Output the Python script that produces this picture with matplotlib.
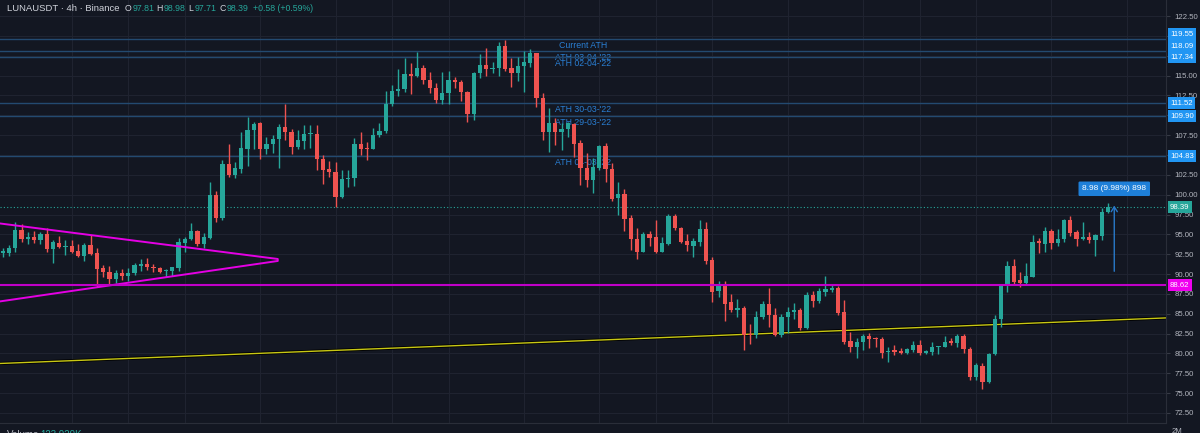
import numpy as np
import matplotlib
matplotlib.use('Agg')
import matplotlib.pyplot as plt
import matplotlib.patheffects as pe

plt.rcParams['font.family'] = ['Liberation Sans', 'DejaVu Sans']

# 4h candles, LUNAUSDT
opens = [92.66, 92.66, 93.29, 95.55, 94.42, 94.67, 94.29, 95.05, 93.16, 93.92,
         93.41, 93.54, 92.91, 92.28, 93.66, 92.66, 90.77, 90.26, 89.38, 90.14,
         89.76, 90.14, 91.02, 91.27, 90.89, 90.77, 90.39, 90.39, 90.77, 93.92,
         94.42, 95.43, 93.79, 94.54, 99.96, 97.07, 103.87, 102.48, 103.24, 105.75,
         108.15, 109.03, 105.75, 106.38, 107.01, 108.53, 107.89, 106.01, 106.76, 107.58,
         107.64, 104.49, 103.24, 102.86, 99.71, 101.98, 102.10, 106.38, 105.88, 105.75,
         107.52, 108.02, 111.42, 113.06, 113.31, 115.20, 114.95, 115.96, 114.44, 113.44,
         111.93, 112.81, 114.44, 114.19, 112.93, 110.16, 115.33, 116.33, 115.83, 115.96,
         118.73, 115.96, 115.33, 116.21, 116.59, 117.84, 112.18, 107.89, 109.03, 107.89,
         108.27, 108.90, 106.51, 103.36, 101.85, 103.36, 106.13, 103.24, 99.58, 100.09,
         97.07, 94.42, 92.78, 95.05, 94.67, 92.78, 93.79, 97.32, 95.80, 94.17,
         93.54, 94.04, 95.68, 91.77, 87.87, 88.75, 86.49, 85.48, 85.73, 82.45,
         82.33, 84.60, 86.24, 84.85, 82.33, 84.60, 85.23, 85.48, 83.21, 87.37,
         86.61, 87.75, 88.00, 88.25, 85.23, 81.57, 80.82, 81.45, 82.20, 81.95,
         81.83, 80.19, 80.44, 80.31, 80.06, 80.44, 81.07, 80.06, 80.19, 80.82,
         80.82, 81.57, 81.32, 82.20, 80.57, 77.04, 78.42, 76.41, 79.93, 84.34,
         88.75, 91.02, 89.26, 88.88, 89.64, 94.17, 93.79, 95.43, 93.92, 94.42,
         96.81, 95.30, 94.42, 94.67, 94.29, 94.80, 97.81]
highs = [93.29, 93.66, 96.56, 96.31, 95.30, 95.43, 95.30, 95.80, 94.29, 94.80,
         94.29, 94.29, 93.79, 93.92, 94.92, 93.29, 91.15, 91.02, 90.52, 90.64,
         90.77, 91.40, 91.90, 92.03, 91.27, 90.89, 90.64, 90.89, 94.54, 94.67,
         96.43, 95.55, 95.17, 101.60, 100.46, 104.37, 106.38, 104.12, 107.89, 109.78,
         109.15, 109.15, 107.26, 107.52, 108.90, 111.42, 108.27, 108.15, 108.78, 108.78,
         108.78, 105.00, 104.24, 104.12, 103.11, 103.11, 107.14, 107.89, 106.64, 108.40,
         109.03, 113.06, 113.81, 115.83, 117.21, 116.59, 117.97, 116.33, 115.45, 114.07,
         115.45, 115.58, 114.82, 114.44, 113.06, 115.45, 117.72, 118.47, 116.71, 119.23,
         119.48, 117.21, 117.34, 118.09, 118.35, 117.90, 112.81, 110.92, 109.66, 109.03,
         109.15, 109.03, 106.89, 105.25, 104.62, 106.26, 106.51, 103.99, 101.60, 100.72,
         97.45, 95.80, 95.30, 95.43, 96.81, 94.67, 97.57, 97.57, 95.93, 95.05,
         94.54, 96.81, 96.56, 92.16, 89.13, 89.13, 87.50, 86.86, 85.98, 83.72,
         85.35, 86.61, 88.25, 85.73, 84.97, 85.86, 86.36, 85.73, 87.75, 87.87,
         88.25, 89.76, 88.75, 88.50, 86.74, 82.71, 81.95, 82.45, 82.58, 82.07,
         82.07, 80.82, 81.07, 80.69, 80.69, 81.57, 81.70, 80.44, 81.45, 80.94,
         82.20, 81.95, 82.45, 82.45, 80.82, 78.80, 78.80, 80.06, 84.85, 88.75,
         91.65, 91.90, 90.26, 91.40, 94.92, 94.54, 95.93, 95.68, 95.68, 96.94,
         97.32, 95.55, 96.56, 95.30, 95.05, 98.32, 98.98]
lows = [92.16, 92.28, 92.78, 94.04, 93.79, 93.92, 93.79, 92.78, 91.40, 93.29,
        92.41, 92.66, 92.16, 91.65, 92.41, 88.37, 89.64, 88.75, 88.88, 89.26,
        89.13, 89.89, 90.39, 90.52, 90.26, 90.14, 89.64, 89.76, 90.39, 92.78,
        94.29, 93.54, 93.29, 94.42, 96.56, 96.81, 102.23, 102.10, 102.73, 103.62,
        105.75, 104.49, 105.12, 105.25, 103.36, 106.89, 105.12, 105.75, 105.75, 105.88,
        103.11, 101.35, 102.23, 98.45, 99.58, 100.97, 101.10, 105.00, 104.37, 105.75,
        107.26, 107.77, 111.17, 112.43, 112.93, 112.68, 114.82, 113.94, 112.81, 111.55,
        111.42, 111.42, 113.44, 111.80, 109.15, 109.41, 114.70, 114.95, 115.33, 114.95,
        115.58, 113.56, 114.32, 112.93, 116.08, 111.04, 106.89, 105.38, 106.26, 105.63,
        107.26, 104.74, 101.22, 100.97, 100.21, 103.11, 101.60, 99.20, 97.45, 95.43,
        93.04, 91.90, 92.78, 93.54, 92.66, 92.78, 93.66, 95.55, 93.92, 92.91,
        92.16, 93.54, 91.27, 86.49, 87.12, 84.09, 85.23, 84.60, 80.44, 81.20,
        81.95, 84.34, 83.34, 82.20, 82.07, 82.58, 84.34, 82.96, 83.09, 85.86,
        86.36, 87.24, 87.75, 84.85, 81.20, 80.19, 79.43, 80.44, 80.69, 80.82,
        79.43, 78.93, 79.81, 79.93, 79.93, 80.19, 79.81, 79.93, 79.81, 79.93,
        80.82, 81.07, 80.82, 80.06, 76.66, 76.66, 75.53, 76.29, 79.81, 83.34,
        87.75, 88.75, 88.37, 88.75, 89.64, 92.66, 92.78, 93.16, 93.54, 94.04,
        94.80, 93.54, 94.29, 93.92, 92.28, 94.29, 97.71]
closes = [92.91, 93.29, 95.55, 94.42, 94.67, 94.29, 95.05, 93.16, 94.04, 93.41,
          93.54, 92.78, 92.28, 93.66, 92.53, 90.64, 90.26, 89.38, 90.14, 89.76,
          90.14, 91.15, 91.27, 90.89, 90.77, 90.26, 90.52, 90.89, 94.04, 94.42,
          95.43, 93.79, 94.67, 99.96, 97.07, 103.87, 102.48, 103.36, 105.88, 108.15,
          108.90, 105.75, 106.38, 107.01, 108.53, 107.89, 106.01, 106.89, 107.64, 107.68,
          104.49, 103.11, 102.86, 99.71, 101.98, 102.10, 106.38, 105.75, 105.75, 107.52,
          108.02, 111.42, 113.06, 113.31, 115.20, 114.95, 115.96, 114.44, 113.44, 111.93,
          112.81, 114.44, 114.19, 112.93, 110.16, 115.33, 116.33, 115.83, 115.96, 118.73,
          115.83, 115.33, 116.21, 116.71, 117.84, 112.18, 107.89, 109.03, 107.89, 108.27,
          109.03, 106.38, 103.36, 101.85, 103.49, 106.13, 103.24, 99.46, 100.09, 96.94,
          94.42, 92.78, 95.05, 94.54, 92.78, 93.92, 97.32, 95.80, 94.04, 93.66,
          94.17, 95.68, 91.65, 87.75, 88.75, 86.24, 85.48, 85.73, 82.33, 82.33,
          84.60, 86.24, 84.85, 82.33, 84.60, 85.23, 85.48, 83.21, 87.37, 86.61,
          87.87, 88.12, 88.25, 85.10, 81.45, 80.82, 81.45, 82.20, 81.83, 81.83,
          80.06, 80.31, 80.19, 80.06, 80.57, 81.07, 80.06, 80.31, 80.82, 80.94,
          81.45, 81.32, 82.20, 80.57, 77.04, 78.55, 76.41, 79.93, 84.34, 88.75,
          91.02, 89.01, 88.88, 89.76, 94.04, 93.92, 95.43, 93.92, 94.42, 96.81,
          95.17, 94.42, 94.67, 94.29, 94.92, 97.82, 98.39]

# drawings
ath_levels = [119.55, 118.09, 117.34, 111.52, 109.90, 104.83]
ath_names = ['Current ATH', "ATH 03-04-'22", "ATH 02-04-'22",
             "ATH 30-03-'22", "ATH 29-03-'22", "ATH 04-03-'22"]
ath_box_shift = [5, 5, 0, 0, 0, 0]   # px: axis labels pushed apart like TradingView
support_level = 88.62
last_price = 98.39
tri_x = [-1, 43.8, 43.8, -1]
tri_y = [96.43, 91.90, 91.65, 86.49]
trend_x = [-1, 186]
trend_y = [78.72, 84.50]
measure_bar = 177
measure_from = 90.00
measure_to = 98.98
measure_text = '8.98 (9.98%) 898'

price_ticks = [122.5, 120.0, 117.5, 115.0, 112.5, 110.0, 107.5, 105.0, 102.5, 100.0,
               97.5, 95.0, 92.5, 90.0, 87.5, 85.0, 82.5, 80.0, 77.5, 75.0, 72.5]
hidden_ticks = [120.0, 117.5, 110.0, 105.0]
time_grid = [11, 20, 29, 41, 53, 62, 71, 83, 95, 104, 113, 125, 137, 146, 155, 167, 179]

BG = '#131722'
UP = '#26a69a'
DOWN = '#ef5350'
GRID = '#1f2330'
BLUE = '#2196f3'
MAGENTA = '#e400e4'
TXT = '#d1d4dc'

fig = plt.figure(figsize=(12, 4.33), dpi=100, facecolor=BG)
ax = fig.add_axes([0, 10 / 433, 1166 / 1200, 423 / 433])
ax.set_facecolor(BG)

o = np.array(opens)
h = np.array(highs)
l = np.array(lows)
c = np.array(closes)
x = np.arange(len(o))
col = np.where(c >= o, UP, DOWN)

# grid
ax.set_yticks(price_ticks)
ax.set_yticklabels(['' if t in hidden_ticks else f'{t:.2f}' for t in price_ticks])
ax.set_xticks(time_grid)
ax.set_xticklabels([])
ax.grid(True, color=GRID, lw=0.8)
ax.set_axisbelow(True)

# horizontal ATH lines + labels
for lvl, name in zip(ath_levels, ath_names):
    ax.axhline(lvl, color='#234a70', lw=1, zorder=1)
    ax.annotate(name, xy=(92.4, lvl), xytext=(0, -2), textcoords='offset pixels',
                ha='center', va='top', fontsize=6.3, color='#2a7fd4', zorder=1)

ax.axhline(last_price, color=UP, lw=0.8, ls=(0, (1, 2)), zorder=1)

# yellow trend line
ax.plot(trend_x, trend_y, color='#c8c814', lw=1, zorder=2,
        path_effects=[pe.Stroke(linewidth=2.2, foreground='#000000'), pe.Normal()])

# candles
ax.vlines(x, l, h, colors=col, lw=1, zorder=3)
body = np.maximum(np.abs(c - o), 0.13)
ax.bar(x, body, bottom=np.minimum(o, c), width=0.68, color=col, lw=0, zorder=4)

# triangle + support
ax.plot(tri_x, tri_y, color=MAGENTA, lw=1.4, zorder=5)
ax.axhline(support_level, color='#c000c8', lw=1.5, zorder=5)

# measure tool
ax.annotate('', xy=(measure_bar, measure_to), xytext=(measure_bar, measure_from),
            arrowprops=dict(arrowstyle='->,head_length=0.35,head_width=0.22', color='#2979c9', lw=1),
            zorder=6)
ax.annotate(measure_text, xy=(measure_bar, measure_to), xytext=(0, 14), textcoords='offset pixels',
            ha='center', va='center', fontsize=6, color='white', zorder=7,
            bbox=dict(boxstyle='round,pad=0.45,rounding_size=0.15', fc='#1e7fd8', ec='none'))

ax.set_xlim(-0.43, 185.24)
ax.set_ylim(71.24, 124.52)

# right price axis
ax.yaxis.tick_right()
ax.tick_params(axis='y', colors='#363a45', labelcolor='#b2b5be', labelsize=5.6, length=3, pad=3)
ax.tick_params(axis='x', length=0)
for s in ['left', 'top']:
    ax.spines[s].set_visible(False)
ax.spines['right'].set_color('#2a2e39')
ax.spines['bottom'].set_color('#2a2e39')


def price_box(v, fc, dy=0):
    ax.annotate(f'{v:.2f}', xy=(1, v), xycoords=('axes fraction', 'data'), xytext=(4, dy),
                textcoords='offset pixels', ha='left', va='center', fontsize=5.6, color='white',
                annotation_clip=False, zorder=10,
                bbox=dict(boxstyle='square,pad=0.32', fc=fc, ec='none'))


for lvl, dy in zip(ath_levels, ath_box_shift):
    price_box(lvl, BLUE, dy)
price_box(last_price, UP)
price_box(support_level, '#f000f0')

# header, laid out piece by piece
fig.canvas.draw()
r = fig.canvas.get_renderer()
parts = [('LUNAUSDT · 4h · Binance', TXT, 6.8, 5), ('O', TXT, 6.3, 1), ('97.81', UP, 6.3, 2),
         ('H', TXT, 6.3, 1), ('98.98', UP, 6.3, 3), ('L', TXT, 6.3, 1), ('97.71', UP, 6.3, 3),
         ('C', TXT, 6.3, 1), ('98.39', UP, 6.3, 4), ('+0.58 (+0.59%)', UP, 6.3, 0)]
xpos = 7
for s, cc, fs, gap in parts:
    t = fig.text(xpos / 1200, 1 - 8.5 / 433, s, color=cc, fontsize=fs, va='center')
    xpos += t.get_window_extent(renderer=r).width + gap

# volume pane stub (cut off by the bottom edge)
fig.text(7 / 1200, 3 / 433, 'Volume', color='#b2b5be', fontsize=7, va='top')
fig.text(40 / 1200, 3 / 433, '123.929K', color=UP, fontsize=7, va='top')
fig.text(1172 / 1200, 5 / 433, '2M', color='#b2b5be', fontsize=5.6, va='top')

fig.savefig('out.png', dpi=100, facecolor=BG)
